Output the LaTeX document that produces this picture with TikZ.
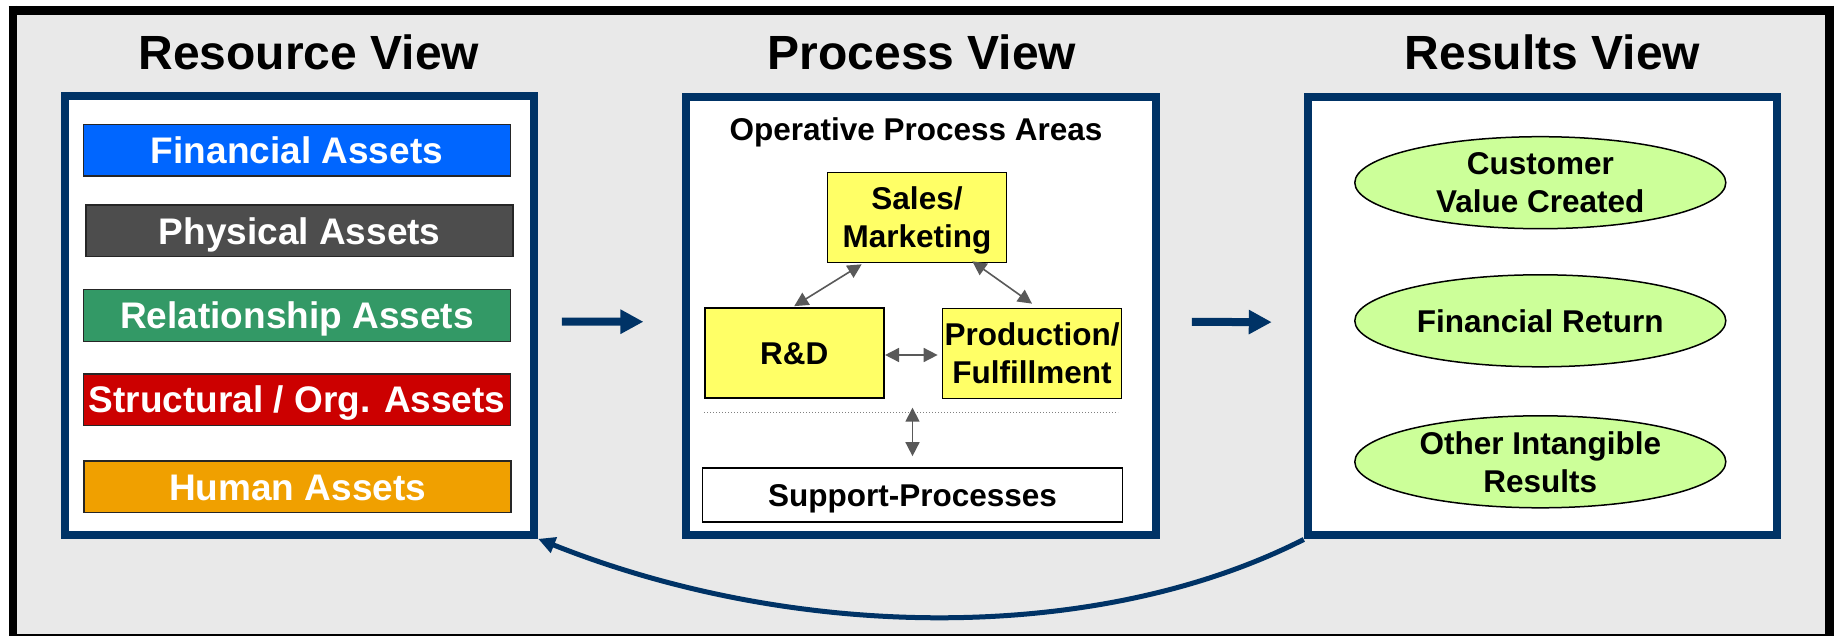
\documentclass[tikz,border=0pt]{standalone}
\usepackage{fontspec}
\setmainfont{Liberation Sans}
\usetikzlibrary{arrows.meta,shapes.geometric,calc}

\definecolor{navy}{HTML}{003366}
\definecolor{panelgray}{HTML}{E9E9E9}
\definecolor{finblue}{HTML}{0066FF}
\definecolor{physgray}{HTML}{4D4D4D}
\definecolor{relgreen}{HTML}{339966}
\definecolor{structred}{HTML}{CC0000}
\definecolor{humanorange}{HTML}{F0A000}
\definecolor{areayellow}{HTML}{FFFF66}
\definecolor{resultgreen}{HTML}{CCFF99}
\definecolor{linkgray}{HTML}{595959}

\newcommand{\diagtitle}{\fontsize{48}{52}\selectfont\bfseries}
\newcommand{\diagbody}{\fontsize{31.5}{38}\selectfont\bfseries}
\newcommand{\diagasset}{\fontsize{37}{40}\selectfont\bfseries}

\begin{document}
\begin{tikzpicture}[x=1pt,y=-1pt,
  viewtitle/.style={font=\diagtitle, anchor=base, inner sep=0pt},
  viewbox/.style={draw=navy, line width=8pt, fill=white,
    minimum width=469.5pt, minimum height=438.5pt, inner sep=0pt},
  asset/.style={draw=black!85, line width=1.5pt, minimum width=427pt,
    minimum height=51.5pt, inner sep=0pt, text=white, font=\diagasset,
    text height=26.5pt, text depth=0pt},
  bodytext/.style={font=\diagbody, text height=22.6pt, text depth=0pt},
  twolines/.style={text height=60.6pt, text depth=0pt},
  area/.style={bodytext, draw=black, line width=1.7pt, fill=areayellow,
    minimum width=179pt, minimum height=90pt, inner sep=0pt, align=center},
  outcome/.style={bodytext, ellipse, draw=black, line width=1.5pt, fill=resultgreen,
    minimum width=371pt, minimum height=92pt, inner sep=0pt, align=center},
  flow/.style={draw=navy, line width=8pt,
    -{Triangle[length=23pt,width=23pt]}},
  link/.style={draw=linkgray, line width=1.6pt,
    {Triangle[length=14pt,width=14pt]}-{Triangle[length=14pt,width=14pt]}},
  feedback/.style={draw=navy, line width=5pt,
    -{Triangle[length=17pt,width=16pt]}}
]
\useasboundingbox (0,0) rectangle (1834,636);

% panel background and frame
\fill[panelgray] (13,10.5) rectangle (1829,634.5);
\draw[line width=9pt] (8.5,10.5) -- (1834,10.5);
\draw[line width=7.5pt] (13,6) -- (13,636);
\draw[line width=9pt] (1829,6) -- (1829,636);
\draw[line width=1.5pt] (13,634.8) -- (1829,634.8);

% view headings
\node[viewtitle] (t1) at (308.8,70) {Resource View};
\node[viewtitle] (t2) at (922,70) {Process View};
\node[viewtitle] (t3) at (1552.5,70) {Results View};

% the three view panels
\node[viewbox] (rsrc) at (299.4,315.6) {};
\node[viewbox] (proc) at (921.2,315.8) {};
\node[viewbox] (rslt) at (1542.5,316.2) {};

% resource categories
\node[asset, fill=finblue]     (fin)   at (297,150.2)   {Financial Assets};
\node[asset, fill=physgray]    (phys)  at (299.7,231)   {Physical Assets};
\node[asset, fill=relgreen]    (rel)   at (297,315.5)   {Relationship Assets};
\node[asset, fill=structred]   (struc) at (297,399.7)   {Structural / Org. Assets};
\node[asset, fill=humanorange] (hum)   at (297.7,486.8) {Human Assets};

% operative process areas
\node[font=\diagbody, anchor=base, inner sep=0pt] (ophead) at (916,141) {Operative Process Areas};
\node[area, twolines] (sales) at (917,217.5) {Sales/\\Marketing};
\node[area] (rd)    at (794.2,353) {R\&D};
\node[area, twolines] (prod)  at (1032,353.5) {Production/\\Fulfillment};
\node[bodytext, draw=black, line width=1.7pt, fill=white, minimum width=420pt,
      minimum height=54pt, inner sep=0pt] (supp) at (912.5,495) {Support-Processes};

\coordinate (sepL) at (704.3,412.3);
\coordinate (sepR) at (1118.3,412.3);
\draw[gray, line width=1pt, dotted] (sepL) -- (sepR);

\draw[link] ([xshift=35pt,yshift=-1pt]sales.south west) -- ([yshift=1pt]rd.north);
\draw[link] ([xshift=-35pt,yshift=2pt]sales.south east) -- ([yshift=4pt]prod.north);
\draw[link, shorten <=0.5pt, shorten >=4pt] ([yshift=-2pt]rd.east) -- ([yshift=-1.5pt]prod.west);
\draw[link, shorten <=11pt, shorten >=-4.6pt] (supp.north) -- (supp.north |- sepL);

% results
\node[outcome, twolines] (cust)  at (1540.3,182.7) {Customer\\Value Created};
\node[outcome] (ret)   at (1540.3,320.8) {Financial Return};
\node[outcome, twolines] (other) at (1540.3,461.8) {Other Intangible\\Results};

% flow between the views
\draw[flow, shorten <=23.7pt, shorten >=39pt] ([yshift=-6pt]rsrc.east) -- ([yshift=-6pt]proc.west);
\draw[flow, shorten <=32pt, shorten >=32pt] ([yshift=-6pt]proc.east) -- ([yshift=-6pt]rslt.west);

% feedback loop from results back to resources
\draw[feedback] (rslt.south west) .. controls (1100,643) and (800,643) .. (rsrc.south east);
\end{tikzpicture}
\end{document}
